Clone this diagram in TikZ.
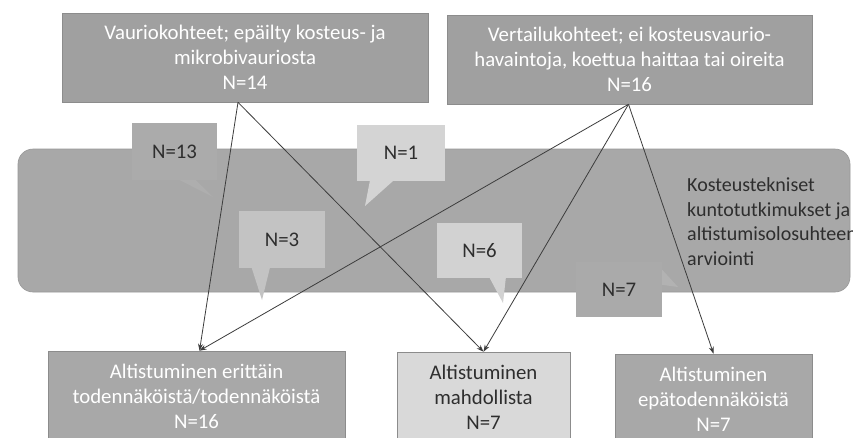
\documentclass[tikz,border=0pt]{standalone}
\usepackage{fontspec}
\setmainfont{Carlito}
\usetikzlibrary{arrows.meta,calc}
\definecolor{topgray}{HTML}{A0A0A0}
\definecolor{bandgray}{HTML}{A8A8A8}
\definecolor{bandedge}{HTML}{989898}
\definecolor{midgray}{HTML}{D9D9D9}
\definecolor{botgray}{HTML}{A8A8A8}
\definecolor{linegray}{HTML}{3C3C3C}
\definecolor{txtdark}{HTML}{2E2E2E}
\definecolor{cA}{HTML}{ABABAB}
\definecolor{cB}{HTML}{D4D4D4}
\definecolor{cC}{HTML}{C3C3C3}
\definecolor{cD}{HTML}{D2D2D2}
\definecolor{cE}{HTML}{AAAAAA}
\begin{document}
\begin{tikzpicture}[x=1pt,y=-1pt,
  graybox/.style={draw=black!45,line width=0.6pt,inner sep=0pt,align=center,text=white,
    font=\fontsize{20.8}{25}\selectfont},
  bandbox/.style={draw=bandedge,fill=bandgray,rounded corners=15pt,line width=0.6pt},
  callout/.style={inner sep=0pt,align=center,text=txtdark,font=\fontsize{20.8}{24}\selectfont},
  conn/.style={draw=linegray,line width=0.8pt,-{Stealth[length=7pt,width=5pt]}}]
\useasboundingbox (0,0) rectangle (853,437);
\fill[white] (0,0) rectangle (853,437);
% band
\node[bandbox,minimum width=832pt,minimum height=143pt] (band) at (434,220.5) {};
\node[anchor=west,align=left,text=txtdark,inner sep=0pt,font=\fontsize{20}{24.5}\selectfont] (bandtxt) at (687,221.5)
  {Kosteustekniset\\kuntotutkimukset ja\\altistumisolosuhteen\\arviointi};
% top boxes
\node[graybox,fill=topgray,minimum width=366pt,minimum height=89pt] (tl) at (245,57.5)
  {Vauriokohteet; epäilty kosteus- ja\\mikrobivauriosta\\N=14};
\node[graybox,fill=topgray,minimum width=365pt,minimum height=89pt] (tr) at (629.5,59.5)
  {Vertailukohteet; ei kosteusvaurio-\\havaintoja, koettua haittaa tai oireita\\N=16};
% bottom boxes
\node[graybox,fill=botgray,minimum width=297pt,minimum height=90pt] (bl) at (196.5,396)
  {Altistuminen erittäin\\todennäköistä/todennäköistä\\N=16};
\node[graybox,fill=midgray,text=txtdark,minimum width=173pt,minimum height=90pt] (mid) at (483.5,397)
  {Altistuminen\\mahdollista\\N=7};
\node[graybox,fill=botgray,minimum width=197pt,minimum height=90pt] (rt) at (713.5,399)
  {Altistuminen\\epätodennäköistä\\N=7};
% callouts
\node[callout,fill=cA,minimum width=85pt,minimum height=57pt] (c13) at (174.5,151.5) {N=13};
\fill[cA!96!white] ($(c13.south west)+(48,0)$) -- ($(c13.south west)+(64,0)$) -- (213,197) -- cycle;
\node[callout,fill=cB,minimum width=88pt,minimum height=56pt] (c1) at (401,153) {N=1};
\fill[cB] ($(c1.south west)+(13,0)$) -- ($(c1.south west)+(36,0)$) -- (365,206) -- cycle;
\node[callout,fill=cC,minimum width=86pt,minimum height=57pt] (c3) at (282,239.5) {N=3};
\fill[cC] ($(c3.south west)+(13,0)$) -- ($(c3.south west)+(31,0)$) -- (262,300) -- cycle;
\node[callout,fill=cD,minimum width=85pt,minimum height=55pt] (c6) at (479.5,250.5) {N=6};
\fill[cD] ($(c6.south west)+(53,0)$) -- ($(c6.south west)+(69,0)$) -- (503,303) -- cycle;
\node[callout,fill=cE,minimum width=86pt,minimum height=55pt] (c7) at (619,289.5) {N=7};
\fill[cE!90!white] ($(c7.north east)+(0,8)$) -- ($(c7.north east)+(0,23)$) -- (678,287) -- cycle;
% connectors
\draw[conn] ([xshift=-7pt]tl.south) -- ([xshift=3pt]bl.north);
\draw[conn] ([xshift=-7pt]tl.south) -- (mid.north);
\draw[conn] ([xshift=-1pt]tr.south) -- ([xshift=3pt]bl.north);
\draw[conn] ([xshift=-1pt]tr.south) -- (mid.north);
\draw[conn] ([xshift=-1pt]tr.south) -- (rt.north);
\end{tikzpicture}
\end{document}
